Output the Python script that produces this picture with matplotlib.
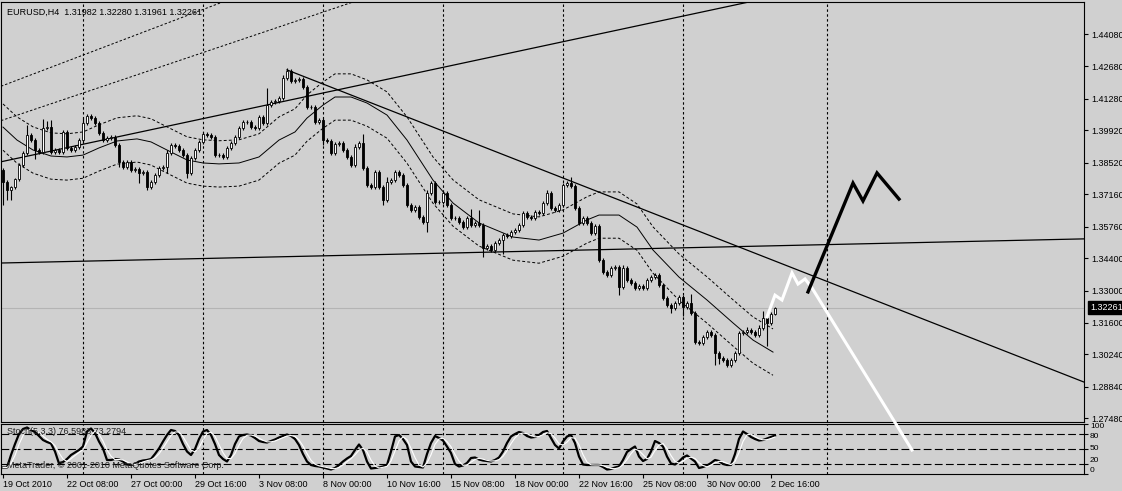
import matplotlib
matplotlib.use('Agg')
import matplotlib.pyplot as plt
import numpy as np
import pandas as pd
from matplotlib.transforms import blended_transform_factory

# ---------------- data ----------------
first_open = 1.3821
closes = [
    1.3769, 1.3734, 1.3747, 1.3782, 1.3842, 1.3894, 1.3972, 1.3950, 1.3907, 1.3898,
    1.4002, 1.4006, 1.3898, 1.3907, 1.3898, 1.3985, 1.3916, 1.3907, 1.3920, 1.3950,
    1.4024, 1.4054, 1.4045, 1.4024, 1.3980, 1.3950, 1.3959, 1.3963, 1.3929, 1.3855,
    1.3834, 1.3855, 1.3821, 1.3825, 1.3808, 1.3812, 1.3747, 1.3769, 1.3799, 1.3829,
    1.3834, 1.3894, 1.3929, 1.3924, 1.3907, 1.3885, 1.3808, 1.3872, 1.3907, 1.3942,
    1.3976, 1.3972, 1.3963, 1.3885, 1.3885, 1.3877, 1.3916, 1.3937, 1.3963, 1.4002,
    1.4028, 1.4028, 1.4006, 1.4002, 1.4050, 1.4024, 1.4101, 1.4114, 1.4119, 1.4132,
    1.4218, 1.4248, 1.4205, 1.4209, 1.4214, 1.4179, 1.4093, 1.4093, 1.4028, 1.4037,
    1.3950, 1.3946, 1.3894, 1.3933, 1.3937, 1.3907, 1.3877, 1.3842, 1.3920, 1.3937,
    1.3829, 1.3756, 1.3747, 1.3812, 1.3747, 1.3691, 1.3769, 1.3777, 1.3812, 1.3799,
    1.3756, 1.3669, 1.3648, 1.3661, 1.3618, 1.3596, 1.3721, 1.3764, 1.3682, 1.3682,
    1.3721, 1.3669, 1.3613, 1.3613, 1.3596, 1.3574, 1.3613, 1.3583, 1.3592, 1.3583,
    1.3484, 1.3492, 1.3475, 1.3505, 1.3518, 1.3540, 1.3535, 1.3553, 1.3561, 1.3583,
    1.3635, 1.3618, 1.3613, 1.3639, 1.3635, 1.3678, 1.3721, 1.3656, 1.3648, 1.3669,
    1.3756, 1.3764, 1.3751, 1.3656, 1.3592, 1.3613, 1.3592, 1.3548, 1.3579, 1.3432,
    1.3380, 1.3367, 1.3397, 1.3402, 1.3315, 1.3397, 1.3345, 1.3332, 1.3311, 1.3320,
    1.3311, 1.3345, 1.3358, 1.3367, 1.3324, 1.3268, 1.3237, 1.3224, 1.3246, 1.3272,
    1.3229, 1.3246, 1.3203, 1.3078, 1.3073, 1.3099, 1.3121, 1.3108, 1.3030, 1.3008,
    1.3000, 1.2978, 1.3000, 1.3030, 1.3116, 1.3121, 1.3129, 1.3121, 1.3108, 1.3138,
    1.3181, 1.3160, 1.3198, 1.3226,
]
upper_wick_pips = [
    10, 8, 5, 5, 8, 8, 43, 10, 8, 8,
    40, 25, 30, 8, 8, 10, 10, 8, 8, 10,
    20, 10, 8, 10, 8, 8, 8, 8, 8, 8,
    8, 8, 8, 8, 8, 8, 8, 8, 8, 8,
    8, 15, 10, 8, 8, 8, 10, 8, 8, 10,
    10, 8, 8, 8, 8, 8, 8, 8, 8, 10,
    8, 8, 8, 8, 8, 8, 73, 8, 8, 8,
    12, 13, 8, 8, 8, 8, 8, 8, 10, 8,
    8, 8, 8, 8, 8, 8, 8, 8, 15, 10,
    40, 8, 8, 10, 10, 10, 20, 8, 10, 10,
    8, 8, 8, 8, 8, 8, 15, 10, 8, 8,
    10, 8, 8, 8, 8, 8, 8, 40, 8, 55,
    8, 8, 8, 8, 8, 8, 8, 8, 8, 8,
    8, 8, 8, 8, 8, 10, 12, 8, 8, 8,
    10, 8, 25, 8, 8, 8, 10, 8, 8, 8,
    8, 8, 8, 8, 8, 12, 8, 8, 8, 8,
    8, 8, 8, 8, 8, 8, 8, 8, 8, 8,
    8, 8, 40, 8, 8, 8, 8, 8, 8, 8,
    8, 8, 8, 8, 8, 8, 12, 8, 8, 12,
    30, 15, 10, 2,
]
lower_wick_pips = [
    100, 43, 43, 10, 8, 8, 8, 8, 40, 8,
    8, 8, 8, 8, 8, 8, 8, 8, 8, 8,
    8, 8, 8, 8, 8, 8, 8, 8, 8, 20,
    10, 8, 8, 8, 43, 8, 13, 8, 8, 8,
    8, 25, 8, 8, 8, 8, 20, 10, 8, 8,
    8, 8, 8, 8, 8, 8, 8, 8, 8, 8,
    8, 8, 8, 8, 8, 8, 8, 8, 8, 8,
    8, 8, 8, 8, 8, 8, 8, 8, 8, 8,
    20, 8, 8, 8, 8, 8, 8, 10, 10, 8,
    8, 10, 8, 8, 8, 20, 8, 8, 8, 8,
    8, 8, 8, 8, 8, 8, 45, 8, 8, 8,
    8, 8, 8, 8, 8, 8, 8, 8, 8, 8,
    40, 8, 8, 8, 8, 60, 8, 8, 8, 8,
    8, 8, 8, 8, 8, 8, 8, 8, 8, 8,
    8, 8, 8, 8, 8, 8, 8, 8, 8, 8,
    8, 8, 8, 8, 35, 8, 8, 8, 8, 8,
    8, 8, 8, 8, 8, 8, 8, 20, 8, 8,
    40, 8, 8, 8, 8, 8, 8, 8, 50, 25,
    8, 10, 8, 8, 8, 8, 8, 8, 8, 8,
    8, 100, 8, 2,
]
stoch_main = [
    13, 13, 38, 60, 80, 90, 93, 88, 84, 76,
    68, 64, 61, 45, 21, 24, 30, 38, 43, 48,
    55, 85, 91, 82, 65, 51, 28, 28, 30, 29,
    25, 19, 18, 20, 25, 27, 28, 30, 40, 51,
    65, 78, 88, 86, 78, 60, 45, 38, 50, 70,
    85, 88, 78, 60, 38, 30, 25, 38, 60, 75,
    78, 79, 77, 72, 66, 64, 63, 66, 69, 73,
    76, 79, 76, 70, 58, 40, 25, 18, 16, 15,
    13, 11, 9, 12, 18, 25, 31, 36, 48, 59,
    48, 25, 11, 12, 13, 15, 18, 45, 75, 78,
    70, 58, 25, 15, 14, 13, 40, 62, 76, 72,
    67, 55, 42, 20, 15, 17, 22, 32, 33, 29,
    27, 26, 25, 28, 33, 45, 62, 75, 80, 84,
    82, 76, 73, 74, 78, 84, 86, 72, 58, 51,
    65, 75, 78, 62, 35, 19, 18, 18, 18, 18,
    14, 9, 10, 13, 15, 28, 44, 50, 55, 35,
    26, 30, 45, 66, 62, 55, 35, 21, 19, 25,
    33, 37, 31, 25, 12, 14, 17, 22, 28, 26,
    20, 18, 18, 40, 70, 85, 80, 74, 70, 67,
    68, 71, 74, 77,
]
ma_bars = [0, 3.5, 7.5, 12, 16, 20, 24, 28.5, 33.5, 37, 41, 46, 50, 54, 59, 64, 69, 73, 76, 80,
           83, 87, 91, 96, 101, 107.5, 112.5, 119, 127.5, 134, 140, 146, 149, 154, 158.5,
           162.5, 169, 176, 182.5, 187.5, 192.5]
ma_vals = [1.4006, 1.3950, 1.3907, 1.3881, 1.3877, 1.3885, 1.3916, 1.3946, 1.3955, 1.3942,
           1.3907, 1.3864, 1.3851, 1.3847, 1.3851, 1.3877, 1.3950, 1.3985, 1.4045, 1.4101,
           1.4136, 1.4136, 1.4110, 1.4058, 1.3950, 1.3777, 1.3678, 1.3592, 1.3531, 1.3518,
           1.3548, 1.3605, 1.3626, 1.3626, 1.3574, 1.3475, 1.3358, 1.3259, 1.3160, 1.3086,
           1.3034]
band_width = 0.0100

uptrend_pts = [(0, 1.3858), (185, 1.4541)]
channel1_pts = [(-0.25, 1.4184), (54.25, 1.4542)]
channel2_pts = [(38.5, 1.4261), (86.75, 1.4542)]
downtrend_pts = [(71, 1.4253), (140, 1.3786)]
flat_pts = [(0, 1.3419), (270, 1.3523)]

white_bars = [191, 193, 194.75, 197.25, 198.75, 200.5, 202.25, 227.25]
white_vals = [1.3186, 1.3280, 1.3259, 1.3376, 1.3328, 1.3350, 1.3311, 1.2611]
black_bars = [201.25, 212.5, 215, 218.5, 224]
black_vals = [1.3294, 1.3764, 1.3687, 1.3808, 1.3695]

separator_bars = [20, 50, 80, 110, 140, 170, 206]
price_ticks = [1.44080, 1.42680, 1.41280, 1.39920, 1.38520, 1.37160, 1.35760,
               1.34400, 1.33000, 1.31600, 1.30240, 1.28840, 1.27480]
current_price = 1.32261
date_tick_bars = [0, 16, 32, 48, 64, 80, 96, 112, 128, 144, 160, 176, 192]
date_labels = ['19 Oct 2010', '22 Oct 08:00', '27 Oct 00:00', '29 Oct 16:00', '3 Nov 08:00',
               '8 Nov 00:00', '10 Nov 16:00', '15 Nov 08:00', '18 Nov 00:00', '22 Nov 16:00',
               '25 Nov 08:00', '30 Nov 00:00', '2 Dec 16:00']
stoch_levels = [80, 50, 20]
stoch_tick_vals = [100, 80, 50, 20, 0]
stoch_labels = ['100', '80', '50', '20', '0']
title = 'EURUSD,H4  1.31982 1.32280 1.31961 1.32261'
stoch_title = 'Stoch(5,3,3) 76.5983 73.2794'
copyright_text = 'MetaTrader, \u00a9 2001-2010 MetaQuotes Software Corp.'

# ---------------- style ----------------
BG = '#D0D0D0'
FS = 6.5
plt.rcParams['font.family'] = ['Liberation Sans', 'DejaVu Sans']
W, H = 1122, 491

def fx(px):
    return px / W

def fy(py):
    return 1 - py / H

fig = plt.figure(figsize=(W / 100, H / 100), dpi=100, facecolor=BG)
ax = fig.add_axes([fx(1), fy(422), fx(1084) - fx(1), fy(2) - fy(422)], facecolor=BG, zorder=2)
sub = fig.add_axes([fx(1), fy(474), fx(1084) - fx(1), fy(424) - fy(474)], facecolor=BG, zorder=1)

XMIN, XMAX = -0.5, 270.25
for a in (ax, sub):
    a.set_xlim(XMIN, XMAX)
    for s in a.spines.values():
        s.set_color('black')
        s.set_linewidth(0.8)
ax.set_ylim(1.27320, 1.45464)
sub.set_ylim(0, 100)

# ---------------- candles ----------------
n = len(closes)
idx = np.arange(n)
c = np.array(closes)
o = np.concatenate([[first_open], c[:-1]])
top = np.maximum(o, c)
bot = np.minimum(o, c)
hi = top + np.array(upper_wick_pips) * 0.0001
lo = bot - np.array(lower_wick_pips) * 0.0001
ax.vlines(idx, lo, hi, color='black', lw=0.8, zorder=3)
bull = c >= o
ax.bar(idx[bull], (top - bot)[bull], bottom=bot[bull], width=0.55, color='white',
       edgecolor='black', linewidth=0.6, zorder=4)
ax.bar(idx[~bull], (top - bot)[~bull], bottom=bot[~bull], width=0.55, color='black',
       edgecolor='black', linewidth=0.6, zorder=4)

# ---------------- MA bands ----------------
mv = np.array(ma_vals)
ax.plot(ma_bars, mv, color='black', lw=0.7, zorder=2)
ax.plot(ma_bars, mv + band_width, color='black', lw=0.7, ls=(0, (3, 2.2)), zorder=2)
ax.plot(ma_bars, mv - band_width, color='black', lw=0.7, ls=(0, (3, 2.2)), zorder=2)

# ---------------- lines ----------------
ax.axline(uptrend_pts[0], uptrend_pts[1], color='black', lw=0.9, zorder=2.5)
ax.axline(flat_pts[0], flat_pts[1], color='black', lw=0.9, zorder=2.5)
ax.axline(channel1_pts[0], channel1_pts[1], color='black', lw=0.7, ls=(0, (2.5, 2)), zorder=2.5)
ax.axline(channel2_pts[0], channel2_pts[1], color='black', lw=0.7, ls=(0, (2.5, 2)), zorder=2.5)
(dx0, dy0), (dx1, dy1) = downtrend_pts
slope = (dy1 - dy0) / (dx1 - dx0)
ax.plot([dx0, XMAX], [dy0, dy0 + slope * (XMAX - dx0)], color='black', lw=0.9, zorder=2.5)

ax.axhline(current_price, color='#B4B4B4', lw=0.8, zorder=0.5)

for s in separator_bars:
    ax.axvline(s, color='black', lw=0.8, ls=(0, (2.2, 2.2)), zorder=1)
    sub.axvline(s, color='black', lw=0.8, ls=(0, (2.2, 2.2)), zorder=1)

ax.plot(white_bars, white_vals, color='white', lw=2.2, zorder=6, clip_on=False,
        solid_joinstyle='miter')
ax.plot(black_bars, black_vals, color='black', lw=2.4, zorder=6, clip_on=False,
        solid_joinstyle='miter')

# ---------------- price axis ----------------
ax.yaxis.tick_right()
ax.set_yticks(price_ticks)
ax.set_yticklabels(['%.5f' % p for p in price_ticks])
ax.tick_params(axis='y', length=3, width=0.8, pad=2, labelsize=FS, colors='black')
ax.tick_params(axis='x', bottom=False, labelbottom=False)
tr = blended_transform_factory(ax.transAxes, ax.transData)
ax.text(1.0 + 6 / 1083, current_price, '%.5f' % current_price, transform=tr, ha='left',
        va='center', color='white', fontsize=FS, clip_on=False, zorder=10,
        bbox=dict(boxstyle='square,pad=0.25', fc='black', ec='black'))

# ---------------- stochastic ----------------
sm = pd.Series(stoch_main, dtype=float)
sig = sm.rolling(3, min_periods=1).mean()
for lv in stoch_levels:
    sub.axhline(lv, color='black', lw=0.8, ls=(0, (7, 3)), zorder=1)
sub.plot(idx, sm.values, color='black', lw=1.6, zorder=3)
sub.plot(idx, sig.values, color='white', lw=0.8, zorder=4)

sub.yaxis.tick_right()
sub.set_yticks(stoch_tick_vals)
sub.set_yticklabels([])
sub.tick_params(axis='y', length=3, width=0.8)
# labels placed so they do not collide (100/80 and 20/0 are very close)
label_px = [427, 436, 449, 461, 470]
for lab, py in zip(stoch_labels, label_px):
    fig.text(fx(1090), fy(py), lab, fontsize=6, va='center', ha='left', color='black')

sub.set_xticks(date_tick_bars)
sub.set_xticklabels(date_labels, ha='left')
sub.tick_params(axis='x', length=3, width=0.8, pad=1, labelsize=FS)

fig.text(fx(7), fy(12), title, fontsize=FS, va='center', ha='left', color='black')
fig.text(fx(7), fy(432), stoch_title, fontsize=FS, va='center', ha='left', color='#202020')
fig.text(fx(7), fy(465), copyright_text, fontsize=FS, va='center', ha='left', color='#202020')

fig.savefig('out.png', dpi=100, facecolor=BG)
